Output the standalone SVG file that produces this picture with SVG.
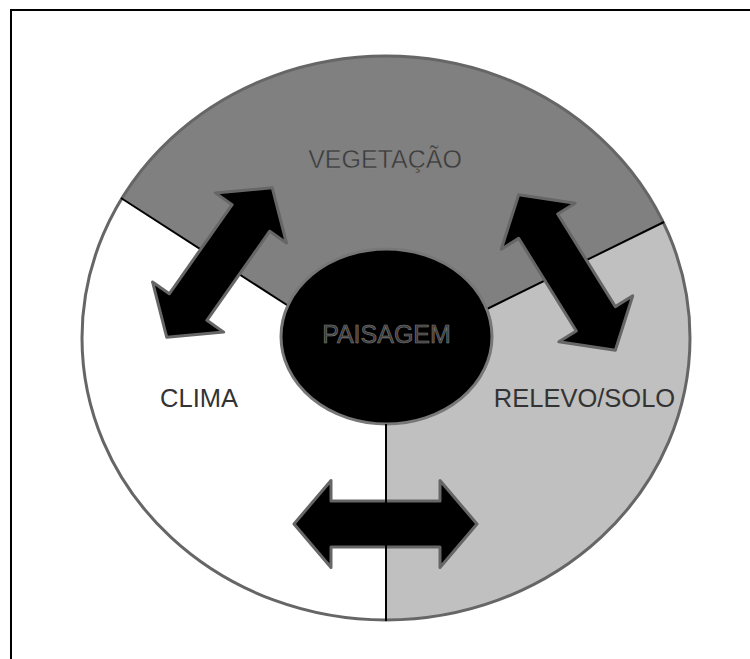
<svg xmlns="http://www.w3.org/2000/svg" width="750" height="659" viewBox="0 0 750 659">
<style>
.lbl{font-family:"Liberation Sans",Arial,sans-serif;text-anchor:middle;}
.div{stroke:#000;stroke-width:2;fill:none;}
.arrow{fill:#000;stroke:#666;stroke-width:3;stroke-linejoin:round;}
</style>
<defs>
<path id="dblArrow" d="M -91.5 0 L -54.5 -43.5 L -54.5 -23 L 54.5 -23 L 54.5 -43.5 L 91.5 0 L 54.5 43.5 L 54.5 23 L -54.5 23 L -54.5 43.5 Z"/>
</defs>
<rect x="0" y="0" width="750" height="659" fill="#fff"/>
<rect x="11" y="10" width="800" height="700" fill="none" stroke="#000" stroke-width="2"/>

<g id="clima">
<ellipse cx="386" cy="338" rx="304" ry="282" fill="#fff"/>
<text class="lbl" x="199" y="407" font-size="25.5" fill="#333">CLIMA</text>
</g>
<g id="vegetacao">
<path d="M 122 198 A 304 282 0 0 1 663 222 L 485 310 L 386 337 L 289 306 Z" fill="#808080"/>
<text class="lbl" x="385" y="168" font-size="25" fill="#3c3c3c" stroke="#8a8a8a" stroke-width="0.4">VEGETAÇÃO</text>
</g>
<g id="relevo">
<path d="M 663 222 A 304 282 0 0 1 386 620 L 386 337 L 485 310 Z" fill="#c0c0c0"/>
<text class="lbl" x="584.5" y="407" font-size="25.5" fill="#333">RELEVO/SOLO</text>
</g>
<ellipse cx="386" cy="338" rx="304" ry="282" fill="none" stroke="#666" stroke-width="3"/>

<g id="dividers">
<line class="div" x1="121" y1="198" x2="290" y2="307"/>
<line class="div" x1="664" y1="222" x2="483" y2="311"/>
</g>

<g id="paisagem">
<ellipse cx="386.5" cy="336.5" rx="105.5" ry="87.5" fill="#000" stroke="#777" stroke-width="3"/>
<text class="lbl" x="386.5" y="343" font-size="25" fill="#3a3a3a" stroke="#808080" stroke-width="0.6">PAISAGEM</text>
</g>

<g id="connectors">
<use href="#dblArrow" class="arrow" transform="translate(219.5 262.5) rotate(-54.8)"/>
<use href="#dblArrow" class="arrow" transform="translate(567 272.5) rotate(58.1)"/>
<use href="#dblArrow" class="arrow" transform="translate(385.5 524)"/>
<line class="div" x1="386" y1="424" x2="386" y2="621"/>
</g>
</svg>
